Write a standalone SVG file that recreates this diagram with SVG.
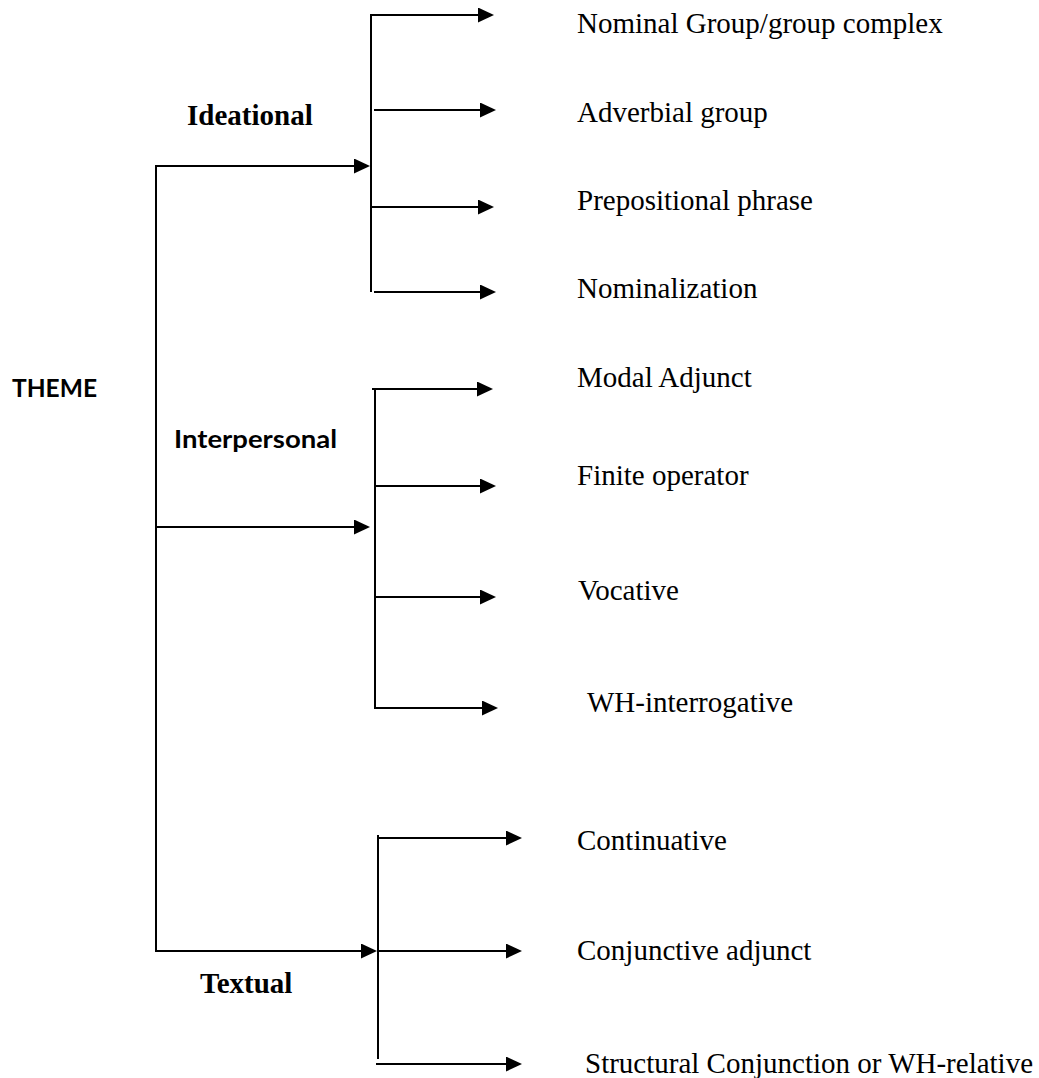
<svg xmlns="http://www.w3.org/2000/svg" width="1039" height="1078" viewBox="0 0 1039 1078">
  <style>
    .ln { stroke: #000; stroke-width: 2; fill: none; }
    .ar { marker-end: url(#head); }
    .item { font-family: "Liberation Serif", "Times New Roman", serif; font-size: 29px; fill: #000; }
    .serifb { font-family: "Liberation Serif", "Times New Roman", serif; font-size: 29px; font-weight: bold; fill: #000; }
    .sansb { font-family: Lato, "Open Sans", "Liberation Sans", sans-serif; font-size: 25px; font-weight: bold; fill: #000; }
  </style>
  <defs>
    <marker id="head" viewBox="0 0 16 15" refX="8" refY="7.5" markerWidth="16" markerHeight="15" markerUnits="userSpaceOnUse" orient="auto">
      <path d="M0,0 L16,7.5 L0,15 Z" fill="#000"/>
    </marker>
  </defs>
  <rect width="1039" height="1078" fill="#fff"/>

  <!-- connectors -->
  <g id="connectors">
    <!-- trunk from THEME -->
    <path class="ln" d="M156,166 V951"/>
    <path class="ln ar" d="M155,166 H362"/>
    <path class="ln ar" d="M155,527 H362"/>
    <path class="ln ar" d="M155,951 H369"/>

    <!-- ideational fan -->
    <path class="ln" d="M371,15 V292"/>
    <path class="ln ar" d="M370,15 H486"/>
    <path class="ln ar" d="M374,110 H488"/>
    <path class="ln ar" d="M371,207 H486"/>
    <path class="ln ar" d="M374,292 H488"/>

    <!-- interpersonal fan -->
    <path class="ln" d="M375,389 V708"/>
    <path class="ln ar" d="M372,389 H485"/>
    <path class="ln ar" d="M374,486 H488"/>
    <path class="ln ar" d="M374,597 H488"/>
    <path class="ln ar" d="M374,708 H490"/>

    <!-- textual fan -->
    <path class="ln" d="M378,835 V1059"/>
    <path class="ln ar" d="M378,838 H514"/>
    <path class="ln ar" d="M378,951 H514"/>
    <path class="ln ar" d="M376,1064 H514"/>
  </g>

  <!-- root -->
  <g id="theme"><text class="sansb" x="12" y="397" textLength="85" lengthAdjust="spacingAndGlyphs">THEME</text></g>

  <!-- metafunctions -->
  <g id="ideational"><text class="serifb" x="187" y="125">Ideational</text></g>
  <g id="interpersonal"><text class="sansb" x="174" y="448" textLength="163" lengthAdjust="spacingAndGlyphs">Interpersonal</text></g>
  <g id="textual"><text class="serifb" x="200" y="993">Textual</text></g>

  <!-- ideational themes -->
  <g id="nominal-group"><text class="item" x="577" y="33">Nominal Group/group complex</text></g>
  <g id="adverbial-group"><text class="item" x="577" y="122">Adverbial group</text></g>
  <g id="prepositional-phrase"><text class="item" x="577" y="210">Prepositional phrase</text></g>
  <g id="nominalization"><text class="item" x="577" y="298">Nominalization</text></g>

  <!-- interpersonal themes -->
  <g id="modal-adjunct"><text class="item" x="577" y="387">Modal Adjunct</text></g>
  <g id="finite-operator"><text class="item" x="577" y="485">Finite operator</text></g>
  <g id="vocative"><text class="item" x="578" y="600">Vocative</text></g>
  <g id="wh-interrogative"><text class="item" x="587" y="712">WH-interrogative</text></g>

  <!-- textual themes -->
  <g id="continuative"><text class="item" x="577" y="850">Continuative</text></g>
  <g id="conjunctive-adjunct"><text class="item" x="577" y="960">Conjunctive adjunct</text></g>
  <g id="structural-conjunction"><text class="item" x="585" y="1073">Structural Conjunction or WH-relative</text></g>
</svg>
